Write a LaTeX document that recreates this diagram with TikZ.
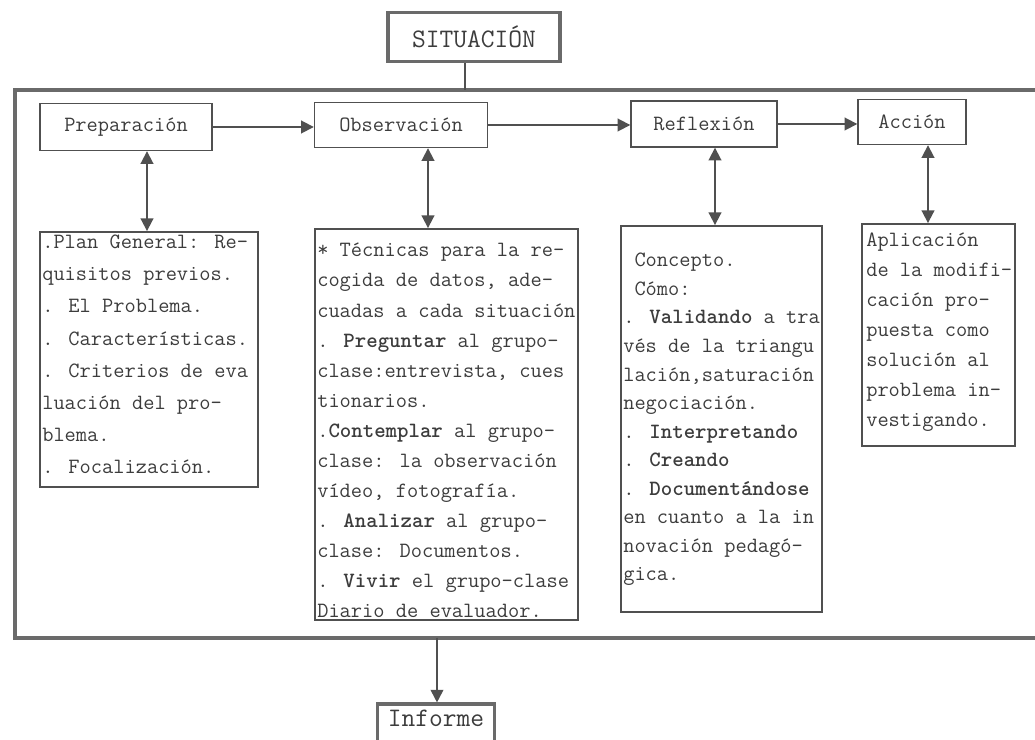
\documentclass[tikz,border=0pt]{standalone}
\usepackage{tikz}
\usetikzlibrary{arrows.meta}

\newcommand{\pxu}{0.025cm}
\definecolor{ink}{HTML}{505050}
\definecolor{frameink}{HTML}{6A6A6A}
\definecolor{typeink}{HTML}{3C3C3C}

\tikzset{
  boxsize/.style 2 args={minimum width=#1*\pxu, minimum height=#2*\pxu},
  lbl/.style={draw=ink, line width=1pt, inner sep=0pt, text=typeink,
    font=\ttfamily\fontsize{15.5}{18}\selectfont},
  bigbox/.style={draw=frameink, line width=2.2pt, inner sep=0pt, text=typeink,
    font=\ttfamily\fontsize{19}{22}\selectfont},
  txtbox/.style={draw=ink, line width=1.3pt, inner sep=0pt},
  txt/.style={anchor=north west, align=left, inner sep=0pt, text=typeink,
    font=\ttfamily\fontsize{15.5}{#1}\selectfont},
  frame/.style={draw=frameink, line width=2.4pt},
  flow/.style={draw=ink, line width=1.3pt, -{Triangle[length=9pt,width=9pt]}},
  both/.style={draw=ink, line width=1.3pt,
    {Triangle[length=9pt,width=9pt]}-{Triangle[length=9pt,width=9pt]}},
}

\begin{document}
\begin{tikzpicture}[x=0.025cm, y=-0.025cm]
    \useasboundingbox (0,0) rectangle (1035,740);
    \clip (0,0) rectangle (1035,740);

    % Top and bottom boxes
    \node[bigbox, boxsize={172}{49}] (sit) at (474,37) {SITUACIÓN};
    \node[bigbox, minimum width=117*\pxu, text height=23*\pxu, text depth=40*\pxu,
      anchor=base] (inf) at (436,727) {Informe};

    % Outer frame, open on the right
    \draw[frame] (1040,90) -- (15,90) -- (15,638) -- (1040,638);
    \coordinate (ftop) at (465,90);
    \coordinate (fbot) at (437,638);
    \draw[draw=ink, line width=1.3pt] (ftop |- sit.south) -- (ftop);
    \draw[flow] (fbot) -- (fbot |- inf.north);

    % Stage boxes
    \node[lbl, boxsize={172}{47}] (prep) at (126,127) {Preparación};
    \node[lbl, boxsize={173}{45}] (obs) at (401,125) {Observación};
    \node[lbl, boxsize={146}{46}] (refl) at (704,124) {Reflexión};
    \node[lbl, boxsize={108}{45}] (acc) at (912,122) {Acción};

    \draw[flow] (prep.east) -- (prep.east -| obs.west);
    \draw[flow] (obs.east) -- (obs.east -| refl.west);
    \draw[flow] (refl.east) -- (refl.east -| acc.west);

    % Content boxes
    \node[txtbox, boxsize={218}{255}] (prepT) at (149,359.5) {};
    \node[txtbox, boxsize={263}{391}] (obsT) at (446.5,424.5) {};
    \node[txtbox, boxsize={201}{386}] (reflT) at (721.5,419) {};
    \node[txtbox, boxsize={153}{222}] (accT) at (938.5,335) {};

    % Double arrows between stage and content
    \coordinate (xp) at (147,0);
    \coordinate (xo) at (428,0);
    \coordinate (xr) at (715,0);
    \coordinate (xa) at (928,0);
    \draw[both] (prep.south -| xp) -- (prepT.north -| xp);
    \draw[both] (obs.south -| xo) -- (obsT.north -| xo);
    \draw[both] (refl.south -| xr) -- (reflT.north -| xr);
    \draw[both] (acc.south -| xa) -- (accT.north -| xa);

    % Texts
    \node[txt=22.8pt] (prepL) at (42,235) {.Plan General: Re-\\
      quisitos previos.\\
      . El Problema.\\
      . Características.\\
      . Criterios de eva\\
      luación del pro—\\
      blema.\\
      . Focalización.};
    \node[txt=21.4pt] (obsL) at (317,243) {* Técnicas para la re-\\
      cogida de datos, ade—\\
      cuadas a cada situación\\
      . \textbf{Preguntar} al grupo-\\
      clase:entrevista, cues\\
      tionarios.\\
      .\textbf{Contemplar} al grupo-\\
      clase: la observación\\
      vídeo, fotografía.\\
      . \textbf{Analizar} al grupo-\\
      clase: Documentos.\\
      . \textbf{Vivir} el grupo-clase\\
      Diario de evaluador.};
    \node[txt=20.3pt] (reflL) at (623,253) {\ Concepto.\\
      \ Cómo:\\
      . \textbf{Validando} a tra\\
      vés de la triangu\\
      lación,saturación\\
      negociación.\\
      . \textbf{Interpretando}\\
      . \textbf{Creando}\\
      . \textbf{Documentándose}\\
      en cuanto a la in\\
      novación pedagó—\\
      gica.};
    \node[txt=21.3pt] (accL) at (866,233) {Aplicación\\
      de la modifi-\\
      cación pro—\\
      puesta como\\
      solución al\\
      problema in-\\
      vestigando.};
\end{tikzpicture}
\end{document}
